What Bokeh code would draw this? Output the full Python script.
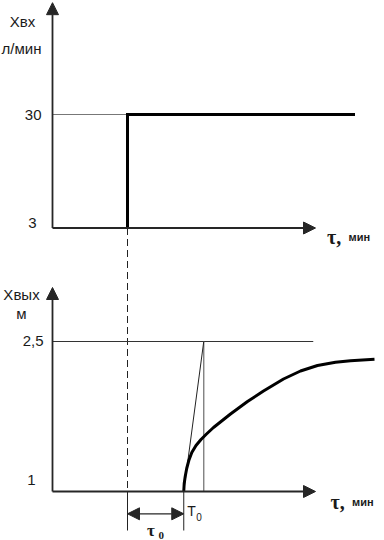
from bokeh.plotting import figure
from bokeh.models import Range1d, Arrow, NormalHead
from bokeh.core.properties import value
from bokeh.embed import file_html
from bokeh.resources import INLINE

# ---------------- data ----------------
# time axis (min, arbitrary schematic units)
t_step = 3.0          # moment of the step of the input flow
tau0 = 2.25           # transport delay
T0_len = 0.8          # time constant (tangent reaches the steady level)
t_line_end = 12.1     # end of the input step line
t_axis_end = 10.52    # tip of the time axes
t_ref25_end = 10.43   # end of the 2,5 reference line

# input flow Xвх (л/мин)
xin_low = 3
xin_high = 30
xin_ticks = [30, 3]
xin_tick_labels = ["30", "3"]
xin_axis_top = 56.6

# output level Xвых (м)
xout_low = 1
xout_high = 2.5
xout_ticks = [2.5, 1]
xout_tick_labels = ["2,5", "1"]
xout_axis_top = 3.04

# response curve of the output
curve_t = [5.25, 5.268, 5.308, 5.368, 5.452, 5.572, 5.74, 5.94, 6.16, 6.44,
           7.12, 7.80, 8.44, 9.24, 9.92, 10.60, 11.32, 11.92, 12.88]
curve_y = [1.00, 1.08, 1.15, 1.23, 1.31, 1.39, 1.46, 1.52, 1.575, 1.64,
           1.775, 1.90, 2.005, 2.125, 2.205, 2.26, 2.292, 2.307, 2.322]

# ---------------- figure ----------------
top_range = Range1d(-71.34, 57.12)
low_range = Range1d(0.51, 5.91)

p = figure(width=384, height=540, x_range=Range1d(-2.08, 13.28), y_range=top_range,
           x_axis_type=None, y_axis_type=None, toolbar_location=None,
           output_backend="svg", min_border=0)
p.extra_y_ranges = {"low": low_range}
p.grid.visible = False
p.outline_line_color = None
p.background_fill_color = "white"
p.border_fill_color = "white"

AX = "#262626"
SANS = value("Liberation Sans")
SERIF = value("Liberation Serif")


def top_to_low(v):
    frac = (v - top_range.start) / (top_range.end - top_range.start)
    return low_range.start + frac * (low_range.end - low_range.start)


def head():
    return NormalHead(size=12, fill_color=AX, line_color=AX, line_width=1)


# ---- top chart ----
p.line([0, t_step], [xin_high, xin_high], line_color="#777777", line_width=1.2)
p.line([t_step, t_step, t_line_end], [xin_low, xin_high, xin_high],
       line_color="black", line_width=3, line_join="miter")
p.add_layout(Arrow(x_start=0, y_start=xin_low, x_end=0, y_end=xin_axis_top,
                   end=head(), line_color=AX, line_width=1.8))
p.add_layout(Arrow(x_start=0, y_start=xin_low, x_end=t_axis_end, y_end=xin_low,
                   end=head(), line_color=AX, line_width=1.8))

# ---- dashed step marker ----
p.line([t_step, t_step], [top_to_low(xin_low), xout_low], y_range_name="low",
       line_color="#222222", line_width=1, line_dash="7 4")
p.line([t_step, t_step], [xout_low, 0.61], y_range_name="low",
       line_color="#222222", line_width=1)
p.line([t_step + tau0, t_step + tau0], [xout_low, 0.61], y_range_name="low",
       line_color="#222222", line_width=1)
p.add_layout(Arrow(x_start=t_step, y_start=0.777, x_end=t_step + tau0, y_end=0.777,
                   start=head(), end=head(), line_color=AX, line_width=1.2,
                   y_range_name="low"))

# ---- bottom chart ----
p.line([0, t_ref25_end], [xout_high, xout_high], y_range_name="low",
       line_color="#333333", line_width=1)
p.line([curve_t[0] + T0_len, curve_t[0] + T0_len], [xout_low, xout_high],
       y_range_name="low", line_color="#777777", line_width=1.3)
p.line([curve_t[0], curve_t[0] + T0_len], [xout_low, xout_high],
       y_range_name="low", line_color="#222222", line_width=1)
p.line(curve_t, curve_y, y_range_name="low", line_color="black", line_width=3,
       line_join="round")
p.add_layout(Arrow(x_start=0, y_start=xout_low, x_end=0, y_end=xout_axis_top,
                   end=head(), line_color=AX, line_width=1.8, y_range_name="low"))
p.add_layout(Arrow(x_start=0, y_start=xout_low, x_end=t_axis_end, y_end=xout_low,
                   end=head(), line_color=AX, line_width=1.8, y_range_name="low"))

# ---------------- texts ----------------
def txt(x, y, s, dx, dy, font=SANS, size="15px", align="right",
        baseline="middle", style="normal", rng="default"):
    kw = {}
    if rng != "default":
        kw["y_range_name"] = rng
    p.text(x=[x], y=[y], text=[s], x_offset=dx, y_offset=dy, text_font=font,
           text_font_size=size, text_align=align, text_baseline=baseline,
           text_font_style=style, text_color="#1a1a1a", **kw)


# tick labels
txt(0, xin_ticks[0], xin_tick_labels[0], -11, 0)
txt(0, xin_ticks[1], xin_tick_labels[1], -16, -5)
txt(0, xout_ticks[0], xout_tick_labels[0], -9, -1, rng="low")
txt(0, xout_ticks[1], xout_tick_labels[1], -17, -12, rng="low")

# axis titles
txt(0, xin_axis_top, "Хвх", -30, 19, align="center")
txt(0, xin_axis_top, "л/мин", -31, 46, align="center")
txt(0, xout_axis_top, "Хвых", -31, 7, align="center", rng="low")
txt(0, xout_axis_top, "м", -31, 26, align="center", rng="low")

# time axis titles
txt(t_axis_end, xin_low, "τ,", 11.5, 9, font=SERIF, size="20px", align="left",
    baseline="alphabetic", style="bold")
txt(t_axis_end, xin_low, "мин", 33, 9, size="11px", align="left",
    baseline="alphabetic", style="bold")
txt(t_axis_end, xout_low, "τ,", 15, 10.5, font=SERIF, size="20px", align="left",
    baseline="alphabetic", style="bold", rng="low")
txt(t_axis_end, xout_low, "мин", 36.5, 10.5, size="11px", align="left",
    baseline="alphabetic", style="bold", rng="low")

# delay and time constant labels
txt(t_step, 0.777, "τ", 19.5, 16.5, font=SERIF, size="17px", align="left",
    baseline="alphabetic", style="bold", rng="low")
txt(t_step, 0.777, "0", 31, 21.5, font=SERIF, size="11px", align="left",
    baseline="alphabetic", style="bold", rng="low")
txt(curve_t[0], xout_low, "T", 3.5, 19, size="14px", align="left",
    baseline="alphabetic", rng="low")
txt(curve_t[0], xout_low, "0", 12.5, 25, size="10px", align="left",
    baseline="alphabetic", rng="low")

open("out.html", "w").write(file_html(p, INLINE))
